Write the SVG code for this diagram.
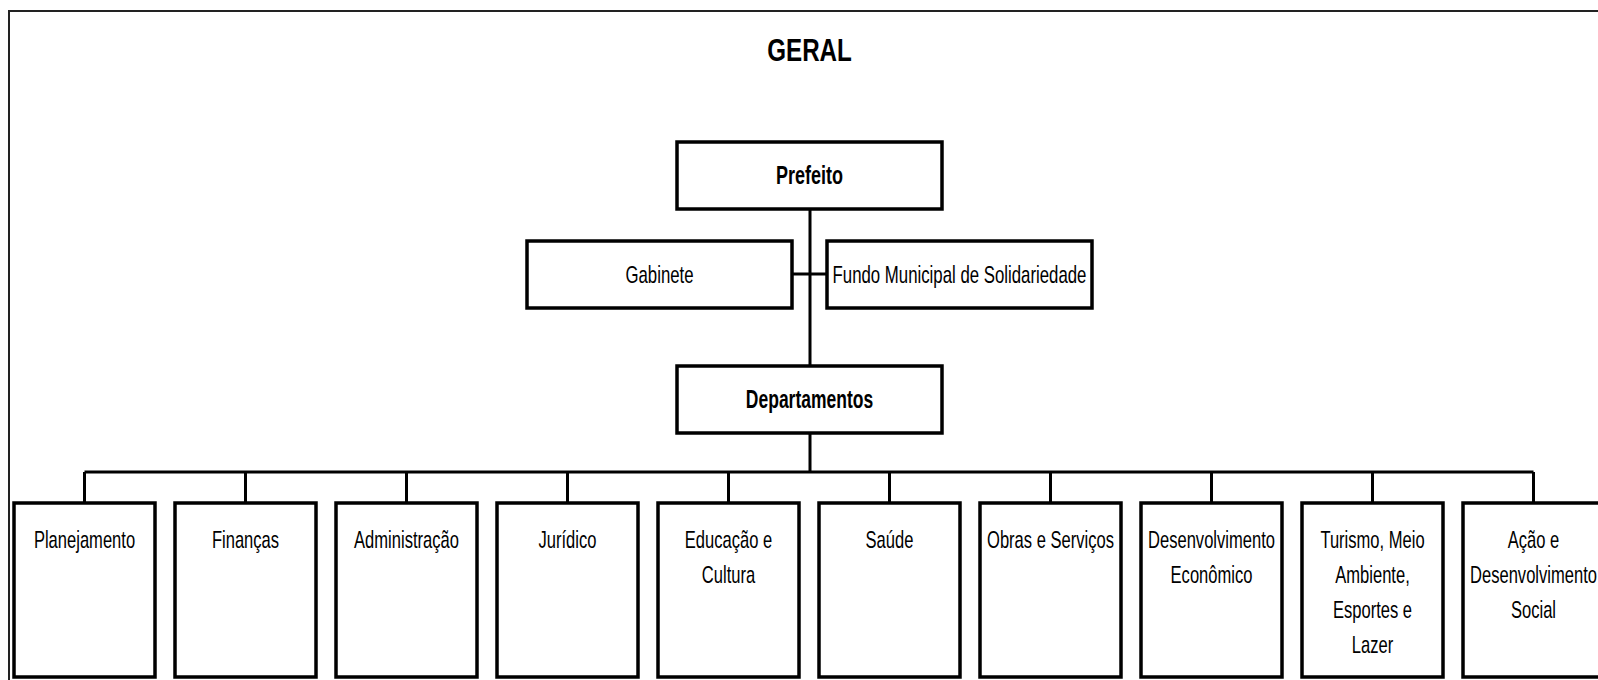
<svg xmlns="http://www.w3.org/2000/svg" width="1598" height="680" viewBox="0 0 1598 680">
<style>
.box{fill:#fff;stroke:#000;stroke-width:3.5}
.ln{stroke:#000;stroke-width:3;fill:none}
.t{font-family:"Liberation Sans",Arial,sans-serif;font-size:24px;fill:#000;text-anchor:middle}
.b{font-weight:bold;font-size:25px}
</style>
<rect x="0" y="0" width="1598" height="680" fill="#fff"/>
<rect x="9" y="11" width="1640" height="720" fill="none" stroke="#222" stroke-width="2"/>
<text class="t b" transform="matrix(0.78 0 0 1 809.5 61)" x="0" y="0" style="font-size:31px">GERAL</text>
<g id="connectors">
<path class="ln" d="M810 210V366M792 274H827M810 433V472M84.5 472H1533.5"/>
<path class="ln" d="M84.5 472V503M245.5 472V503M406.5 472V503M567.5 472V503M728.5 472V503M889.5 472V503M1050.5 472V503M1211.5 472V503M1372.5 472V503M1533.5 472V503"/>
</g>
<g id="prefeito"><rect class="box" x="677" y="142" width="265" height="67"/><text class="t b" transform="matrix(0.72 0 0 1 809.5 184)">Prefeito</text></g>
<g id="gabinete"><rect class="box" x="527" y="241" width="265" height="67"/><text class="t" transform="matrix(0.7 0 0 1 659.5 283)">Gabinete</text></g>
<g id="fundo"><rect class="box" x="827" y="241" width="265" height="67"/><text class="t" transform="matrix(0.7 0 0 1 959.5 283)">Fundo Municipal de Solidariedade</text></g>
<g id="departamentos"><rect class="box" x="677" y="366" width="265" height="67"/><text class="t b" transform="matrix(0.7 0 0 1 809.5 408)">Departamentos</text></g>
<g id="planejamento"><rect class="box" x="14" y="503" width="141" height="174"/><text class="t" transform="matrix(0.69 0 0 1 84.5 548)">Planejamento</text></g>
<g id="financas"><rect class="box" x="175" y="503" width="141" height="174"/><text class="t" transform="matrix(0.69 0 0 1 245.5 548)">Finanças</text></g>
<g id="administracao"><rect class="box" x="336" y="503" width="141" height="174"/><text class="t" transform="matrix(0.69 0 0 1 406.5 548)">Administração</text></g>
<g id="juridico"><rect class="box" x="497" y="503" width="141" height="174"/><text class="t" transform="matrix(0.69 0 0 1 567.5 548)">Jurídico</text></g>
<g id="educacao"><rect class="box" x="658" y="503" width="141" height="174"/><text class="t" transform="matrix(0.69 0 0 1 728.5 548)"><tspan x="0" y="0">Educação e</tspan><tspan x="0" y="35">Cultura</tspan></text></g>
<g id="saude"><rect class="box" x="819" y="503" width="141" height="174"/><text class="t" transform="matrix(0.69 0 0 1 889.5 548)">Saúde</text></g>
<g id="obras"><rect class="box" x="980" y="503" width="141" height="174"/><text class="t" transform="matrix(0.69 0 0 1 1050.5 548)">Obras e Serviços</text></g>
<g id="desenvolvimento"><rect class="box" x="1141" y="503" width="141" height="174"/><text class="t" transform="matrix(0.69 0 0 1 1211.5 548)"><tspan x="0" y="0">Desenvolvimento</tspan><tspan x="0" y="35">Econômico</tspan></text></g>
<g id="turismo"><rect class="box" x="1302" y="503" width="141" height="174"/><text class="t" transform="matrix(0.69 0 0 1 1372.5 548)"><tspan x="0" y="0">Turismo, Meio</tspan><tspan x="0" y="35">Ambiente,</tspan><tspan x="0" y="70">Esportes e</tspan><tspan x="0" y="105">Lazer</tspan></text></g>
<g id="acao"><rect class="box" x="1463" y="503" width="141" height="174"/><text class="t" transform="matrix(0.69 0 0 1 1533.5 548)"><tspan x="0" y="0">Ação e</tspan><tspan x="0" y="35">Desenvolvimento</tspan><tspan x="0" y="70">Social</tspan></text></g>
</svg>
